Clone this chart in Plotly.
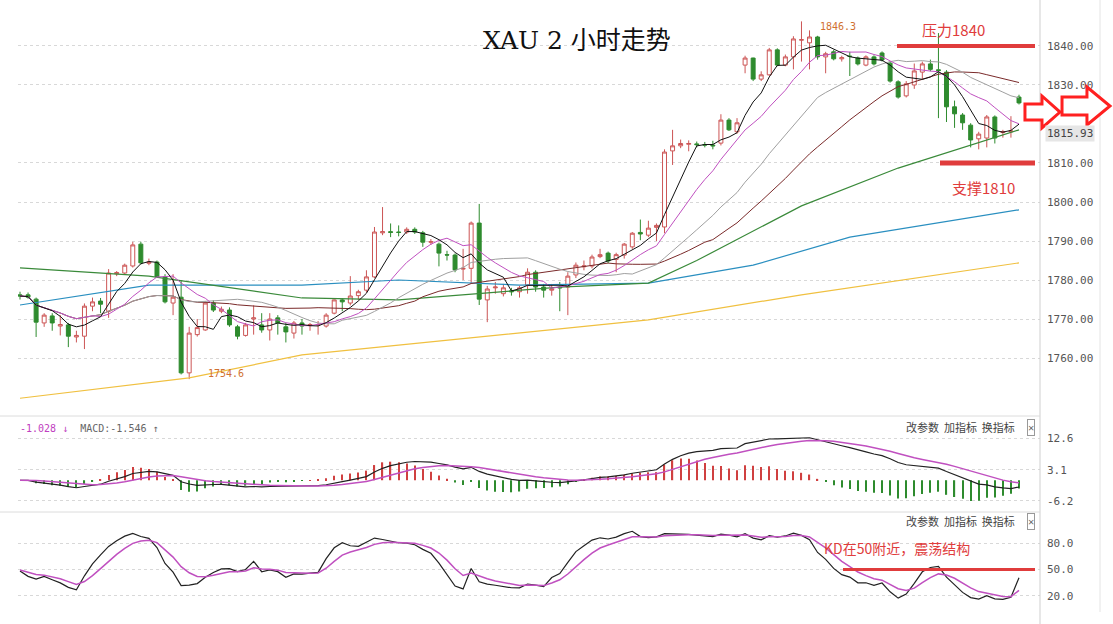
import numpy as np
import pandas as pd
import plotly.graph_objects as go

W, H = 1113, 624

# candle data (2h XAU)
opens = [1776.2, 1776.2, 1775.1, 1769.0, 1770.8, 1768.2, 1768.5, 1765.4, 1765.6, 1773.3,
         1774.6, 1772.0, 1781.6, 1781.8, 1783.6, 1789.2, 1784.3, 1784.6, 1780.8, 1774.1,
         1775.6, 1756.2, 1766.0, 1767.2, 1774.1, 1772.0, 1772.3, 1768.0, 1765.8, 1770.0,
         1768.5, 1767.2, 1770.3, 1768.0, 1766.4, 1769.0, 1768.3, 1768.5, 1768.2, 1771.5,
         1774.9, 1774.1, 1776.0, 1777.4, 1780.8, 1792.1, 1792.4, 1792.3, 1792.3, 1793.0,
         1792.1, 1789.7, 1789.2, 1786.5, 1786.4, 1782.8, 1783.0, 1794.6, 1774.9, 1778.0,
         1776.5, 1777.2, 1777.0, 1778.7, 1782.0, 1778.2, 1777.4, 1778.2, 1778.2, 1781.3,
         1783.4, 1783.6, 1786.0, 1786.9, 1785.3, 1786.4, 1788.5, 1792.2, 1791.5, 1793.5,
         1793.6, 1813.1, 1814.4, 1814.8, 1814.9, 1814.7, 1814.6, 1815.1, 1821.0, 1818.0,
         1835.1, 1836.9, 1831.5, 1832.6, 1839.0, 1835.1, 1837.2, 1841.5, 1840.8, 1842.3,
         1837.2, 1838.5, 1836.7, 1837.4, 1836.9, 1835.1, 1837.2, 1838.2, 1835.6, 1830.8,
         1827.2, 1830.0, 1833.3, 1835.4, 1833.9, 1833.3, 1824.4, 1822.3, 1819.7, 1816.2,
         1816.4, 1821.8, 1817.8, 1818.0, 1826.9]
highs = [1777.0, 1776.8, 1775.5, 1771.5, 1771.5, 1771.0, 1769.0, 1767.0, 1774.0, 1775.5,
         1775.4, 1782.8, 1782.3, 1784.2, 1789.8, 1789.8, 1785.5, 1785.0, 1781.5, 1781.5,
         1780.0, 1768.0, 1770.0, 1774.5, 1774.8, 1773.2, 1773.0, 1768.5, 1769.0, 1773.5,
         1771.5, 1771.5, 1771.0, 1769.0, 1769.5, 1770.0, 1769.0, 1769.5, 1771.5, 1775.0,
         1775.3, 1781.0, 1777.5, 1782.5, 1793.6, 1798.7, 1794.5, 1794.0, 1793.5, 1793.5,
         1792.6, 1790.5, 1789.6, 1787.5, 1786.8, 1788.0, 1795.0, 1799.5, 1778.5, 1779.5,
         1779.0, 1778.0, 1778.5, 1783.0, 1782.5, 1779.0, 1779.0, 1779.5, 1782.0, 1784.5,
         1785.0, 1786.5, 1788.0, 1787.3, 1787.0, 1789.5, 1792.3, 1795.5, 1795.2, 1794.5,
         1813.5, 1818.5, 1816.0, 1815.8, 1815.5, 1815.4, 1815.7, 1822.5, 1821.5, 1821.5,
         1837.5, 1837.0, 1833.5, 1839.5, 1839.4, 1837.8, 1842.5, 1846.3, 1844.0, 1842.6,
         1838.5, 1839.0, 1837.5, 1838.5, 1837.3, 1837.6, 1837.6, 1838.6, 1836.0, 1831.2,
         1831.0, 1835.5, 1836.0, 1836.5, 1843.3, 1833.8, 1826.0, 1822.8, 1820.2, 1818.0,
         1822.3, 1822.2, 1818.5, 1822.0, 1827.5]
lows = [1775.0, 1775.2, 1765.4, 1768.0, 1767.0, 1765.8, 1762.8, 1764.0, 1762.3, 1772.0,
        1771.5, 1770.3, 1781.0, 1781.4, 1783.2, 1784.0, 1783.8, 1780.5, 1774.0, 1771.0,
        1755.8, 1754.6, 1765.5, 1767.0, 1771.8, 1771.5, 1768.0, 1764.8, 1765.5, 1766.0,
        1766.5, 1764.5, 1766.0, 1764.0, 1765.0, 1766.0, 1767.0, 1766.0, 1767.8, 1771.2,
        1772.0, 1773.5, 1774.8, 1776.8, 1780.5, 1791.5, 1791.0, 1791.2, 1791.8, 1791.8,
        1788.5, 1789.0, 1783.5, 1785.0, 1782.0, 1780.0, 1779.0, 1773.6, 1769.2, 1776.5,
        1775.8, 1776.0, 1775.5, 1776.5, 1777.0, 1775.5, 1776.0, 1772.0, 1771.0, 1780.5,
        1782.5, 1783.0, 1785.6, 1784.3, 1782.0, 1785.5, 1788.0, 1790.2, 1791.0, 1790.0,
        1792.0, 1809.5, 1813.8, 1813.0, 1814.0, 1814.0, 1813.5, 1814.5, 1818.2, 1817.5,
        1833.0, 1831.0, 1831.0, 1832.4, 1834.8, 1834.8, 1834.0, 1836.0, 1834.0, 1836.5,
        1833.0, 1836.3, 1836.0, 1832.3, 1835.0, 1834.8, 1835.0, 1836.0, 1830.6, 1826.5,
        1826.8, 1829.0, 1831.5, 1833.5, 1821.5, 1820.5, 1819.0, 1818.5, 1814.0, 1813.5,
        1814.0, 1815.0, 1816.5, 1816.5, 1825.0]
closes = [1775.9, 1775.6, 1769.2, 1771.0, 1769.0, 1768.6, 1765.6, 1765.8, 1773.3, 1774.4,
          1773.8, 1781.8, 1781.9, 1783.8, 1789.0, 1784.4, 1784.6, 1780.8, 1774.4, 1775.6,
          1756.2, 1766.4, 1767.8, 1774.1, 1772.3, 1772.5, 1768.5, 1765.6, 1768.5, 1770.3,
          1767.2, 1770.0, 1769.0, 1766.7, 1769.0, 1768.2, 1768.6, 1768.6, 1771.0, 1774.9,
          1774.4, 1775.9, 1777.0, 1780.8, 1792.3, 1792.4, 1792.2, 1792.2, 1793.0, 1792.3,
          1789.7, 1789.8, 1786.9, 1786.4, 1782.6, 1783.0, 1794.6, 1775.1, 1777.7, 1778.2,
          1778.0, 1777.0, 1778.0, 1782.0, 1778.2, 1777.4, 1777.7, 1778.0, 1781.0, 1783.8,
          1783.6, 1785.9, 1786.5, 1784.9, 1786.5, 1789.2, 1792.0, 1791.8, 1793.3, 1794.0,
          1812.8, 1814.4, 1815.0, 1815.0, 1814.7, 1814.6, 1814.4, 1821.0, 1818.5, 1820.3,
          1836.9, 1831.5, 1832.6, 1839.0, 1835.1, 1837.2, 1841.8, 1841.6, 1842.3, 1837.2,
          1838.0, 1836.7, 1837.0, 1837.3, 1835.4, 1837.2, 1835.4, 1836.4, 1831.0, 1826.9,
          1830.3, 1833.6, 1835.4, 1834.0, 1833.7, 1824.4, 1822.6, 1820.3, 1815.9, 1817.4,
          1821.8, 1816.4, 1818.0, 1818.2, 1825.4]

# long moving averages (candle index, value)
ma60_idx = [0, 16, 35, 47, 67, 78, 84, 97, 109, 124]
ma60_val = [1783.1, 1781.0, 1775.4, 1774.9, 1778.2, 1779.2, 1785.0, 1799.0, 1808.7, 1818.5]
ma120_idx = [0, 16, 35, 47, 62, 78, 91, 103, 124]
ma120_val = [1773.6, 1778.7, 1778.7, 1780.0, 1778.7, 1779.2, 1783.8, 1791.0, 1798.0]
ma250_idx = [0, 21, 35, 60, 78, 97, 124]
ma250_val = [1749.7, 1754.9, 1760.8, 1766.0, 1769.8, 1776.2, 1784.4]

# 1820 label is hidden behind the arrows in the picture
price_ticks = [1760, 1770, 1780, 1790, 1800, 1810, 1830, 1840]
macd_ticks = [12.6, 3.1, -6.2]
kd_ticks = [80, 50, 20]

n = len(closes)
x = list(range(n))
c = pd.Series(closes)
hi = pd.Series(highs)
lo = pd.Series(lows)

# indicators
ma5 = c.rolling(5, min_periods=1).mean()
ma10 = c.rolling(10, min_periods=1).mean()
ma20 = c.rolling(20, min_periods=1).mean()
ma30 = c.rolling(30, min_periods=1).mean()
dif = c.ewm(span=12, adjust=False).mean() - c.ewm(span=26, adjust=False).mean()
dea = dif.ewm(span=9, adjust=False).mean()
hist = 2 * (dif - dea)
rsv = (c - lo.rolling(9, min_periods=1).min()) / (hi.rolling(9, min_periods=1).max() - lo.rolling(9, min_periods=1).min()) * 100
k_vals, d_vals = [], []
k, d = 50.0, 50.0
for r in rsv:
    k = 2 / 3 * k + r / 3
    d = 2 / 3 * d + k / 3
    k_vals.append(k)
    d_vals.append(d)


def py(p):
    # pixel row -> paper y
    return 1 - p / H


def px(p):
    return p / W


ppc = 999 / (n - 1)
xr = [-2 / ppc, (n - 1) + 21 / ppc]

fig = go.Figure()
fig.add_trace(go.Scatter(x=ma250_idx, y=ma250_val, mode='lines', line=dict(color='#f0c040', width=1.2)))
fig.add_trace(go.Scatter(x=ma120_idx, y=ma120_val, mode='lines', line=dict(color='#2a8fc0', width=1.2)))
fig.add_trace(go.Scatter(x=ma60_idx, y=ma60_val, mode='lines', line=dict(color='#3a8a3a', width=1.2)))
fig.add_trace(go.Scatter(x=x, y=ma30, mode='lines', line=dict(color='#7a2a2a', width=1)))
fig.add_trace(go.Scatter(x=x, y=ma20, mode='lines', line=dict(color='#a0a0a0', width=1)))
fig.add_trace(go.Candlestick(
    x=x, open=opens, high=highs, low=lows, close=closes,
    increasing=dict(line=dict(color='#cc5555', width=1), fillcolor='white'),
    decreasing=dict(line=dict(color='#2e8b2e', width=1), fillcolor='#2e8b2e'),
    whiskerwidth=0, showlegend=False))
fig.add_trace(go.Scatter(x=x, y=ma10, mode='lines', line=dict(color='#c050c0', width=1)))
fig.add_trace(go.Scatter(x=x, y=ma5, mode='lines', line=dict(color='#111111', width=1)))

# MACD
bar_colors = ['#d04040' if v >= 0 else '#2e8b2e' for v in hist]
fig.add_trace(go.Bar(x=x, y=hist, marker=dict(color=bar_colors, line=dict(width=0)), width=0.15,
                     xaxis='x2', yaxis='y2'))
fig.add_trace(go.Scatter(x=x, y=dif, mode='lines', line=dict(color='#222', width=1.2), xaxis='x2', yaxis='y2'))
fig.add_trace(go.Scatter(x=x, y=dea, mode='lines', line=dict(color='#c050c0', width=1.5), xaxis='x2', yaxis='y2'))

# KD
fig.add_trace(go.Scatter(x=x, y=k_vals, mode='lines', line=dict(color='#222', width=1.2), xaxis='x3', yaxis='y3'))
fig.add_trace(go.Scatter(x=x, y=d_vals, mode='lines', line=dict(color='#c050c0', width=1.5), xaxis='x3', yaxis='y3'))

xd = [px(18), px(1040)]
tickfont = dict(family='DejaVu Sans Mono', size=11, color='#555')
xcommon = dict(domain=xd, range=xr, showticklabels=False, showgrid=False, zeroline=False,
               rangeslider=dict(visible=False))
ycommon = dict(side='right', showgrid=True, gridcolor='#d8d8d8', griddash='dot', zeroline=False,
               tickfont=tickfont, ticks='', ticklabelstandoff=6)

fig.update_layout(
    width=W, height=H, margin=dict(l=0, r=0, t=0, b=0),
    paper_bgcolor='white', plot_bgcolor='white', showlegend=False,
    xaxis=dict(**xcommon),
    xaxis2=dict(**xcommon, anchor='y2'),
    xaxis3=dict(**xcommon, anchor='y3'),
    yaxis=dict(**ycommon, domain=[py(415), py(5)], range=[1745.4, 1850.5],
               tickvals=price_ticks, ticktext=[f'{t:.2f}' for t in price_ticks]),
    yaxis2=dict(**ycommon, domain=[py(510), py(418)], range=[-8.9, 18.6], anchor='x2',
                tickvals=macd_ticks, ticktext=[str(t) for t in macd_ticks]),
    yaxis3=dict(**ycommon, domain=[py(605), py(513)], range=[9.8, 114], anchor='x3',
                tickvals=kd_ticks, ticktext=[f'{t:.1f}' for t in kd_ticks]),
)

red = '#e03c3c'
shapes = [
    dict(type='line', xref='paper', yref='paper', x0=px(1040), x1=px(1040), y0=0, y1=1,
         line=dict(color='#cfcfcf', width=1)),
    dict(type='line', xref='paper', yref='paper', x0=px(1100), x1=px(1100), y0=py(612), y1=1,
         line=dict(color='#e4e4e4', width=1)),
    dict(type='line', xref='paper', yref='paper', x0=0, x1=px(1040), y0=py(416), y1=py(416),
         line=dict(color='#dcdcdc', width=1)),
    dict(type='line', xref='paper', yref='paper', x0=0, x1=px(1040), y0=py(512), y1=py(512),
         line=dict(color='#dcdcdc', width=1)),
    dict(type='line', xref='paper', yref='y', x0=px(897), x1=px(1035), y0=1840, y1=1840,
         line=dict(color=red, width=4)),
    dict(type='line', xref='paper', yref='y', x0=px(940), x1=px(1035), y0=1810, y1=1810,
         line=dict(color=red, width=5)),
    dict(type='line', xref='paper', yref='y3', x0=px(843), x1=px(1035), y0=50, y1=50,
         line=dict(color=red, width=3)),
]


def arrow(x0, xm, x1, yc, h1, h2):
    pts = [(x0, yc - h1), (xm, yc - h1), (xm, yc - h2), (x1, yc), (xm, yc + h2), (xm, yc + h1), (x0, yc + h1)]
    path = 'M ' + ' L '.join(f'{px(a):.4f},{py(b):.4f}' for a, b in pts) + ' Z'
    return dict(type='path', xref='paper', yref='paper', path=path, fillcolor='white',
                line=dict(color='#ff2020', width=3))


shapes.append(arrow(1025, 1042, 1060, 112, 8, 16))
shapes.append(arrow(1062, 1087, 1110, 106, 9, 19))
fig.update_layout(shapes=shapes)

ann = [
    dict(text='XAU 2 小时走势', x=px(577), y=py(40), font=dict(family='DejaVu Serif, Noto Sans CJK SC', size=25, color='#111')),
    dict(text='压力1840', x=px(953), y=py(29), font=dict(family='Noto Sans CJK SC', size=15, color=red)),
    dict(text='支撑1810', x=px(983), y=py(187), font=dict(family='Noto Sans CJK SC', size=15, color=red)),
    dict(text='KD在50附近，震荡结构', x=px(897), y=py(548), font=dict(family='Noto Sans CJK SC', size=14, color=red)),
    dict(text='1846.3', x=px(818), y=py(27), xanchor='left', font=dict(family='DejaVu Sans Mono', size=10, color='#d07030')),
    dict(text='1754.6', x=px(206), y=py(373), xanchor='left', font=dict(family='DejaVu Sans Mono', size=10, color='#d07030')),
    dict(text='1815.93', x=px(1045), y=py(133), xanchor='left', bgcolor='#e6e6e6',
         font=dict(family='DejaVu Sans Mono', size=11, color='#444')),
    dict(text='<span style="color:#c040c0">-1.028 ↓</span>  MACD:-1.546 ↑', x=px(18), y=py(428), xanchor='left',
         font=dict(family='DejaVu Sans Mono', size=10, color='#666')),
]
for yy in (427, 521):
    ann.append(dict(text='改参数  加指标  换指标', x=px(1017), y=py(yy), xanchor='right',
                    font=dict(family='Noto Sans CJK SC', size=11, color='#444')))
    ann.append(dict(text='×', x=px(1031), y=py(yy), bordercolor='#999', borderwidth=1, borderpad=0,
                    font=dict(size=11, color='#666')))
for a in ann:
    a.update(xref='paper', yref='paper', showarrow=False, yanchor='middle')
    a.setdefault('xanchor', 'center')
fig.update_layout(annotations=ann)

fig.write_html("out.html", config={'displayModeBar': False},
               post_script="document.body.style.margin='0';")
